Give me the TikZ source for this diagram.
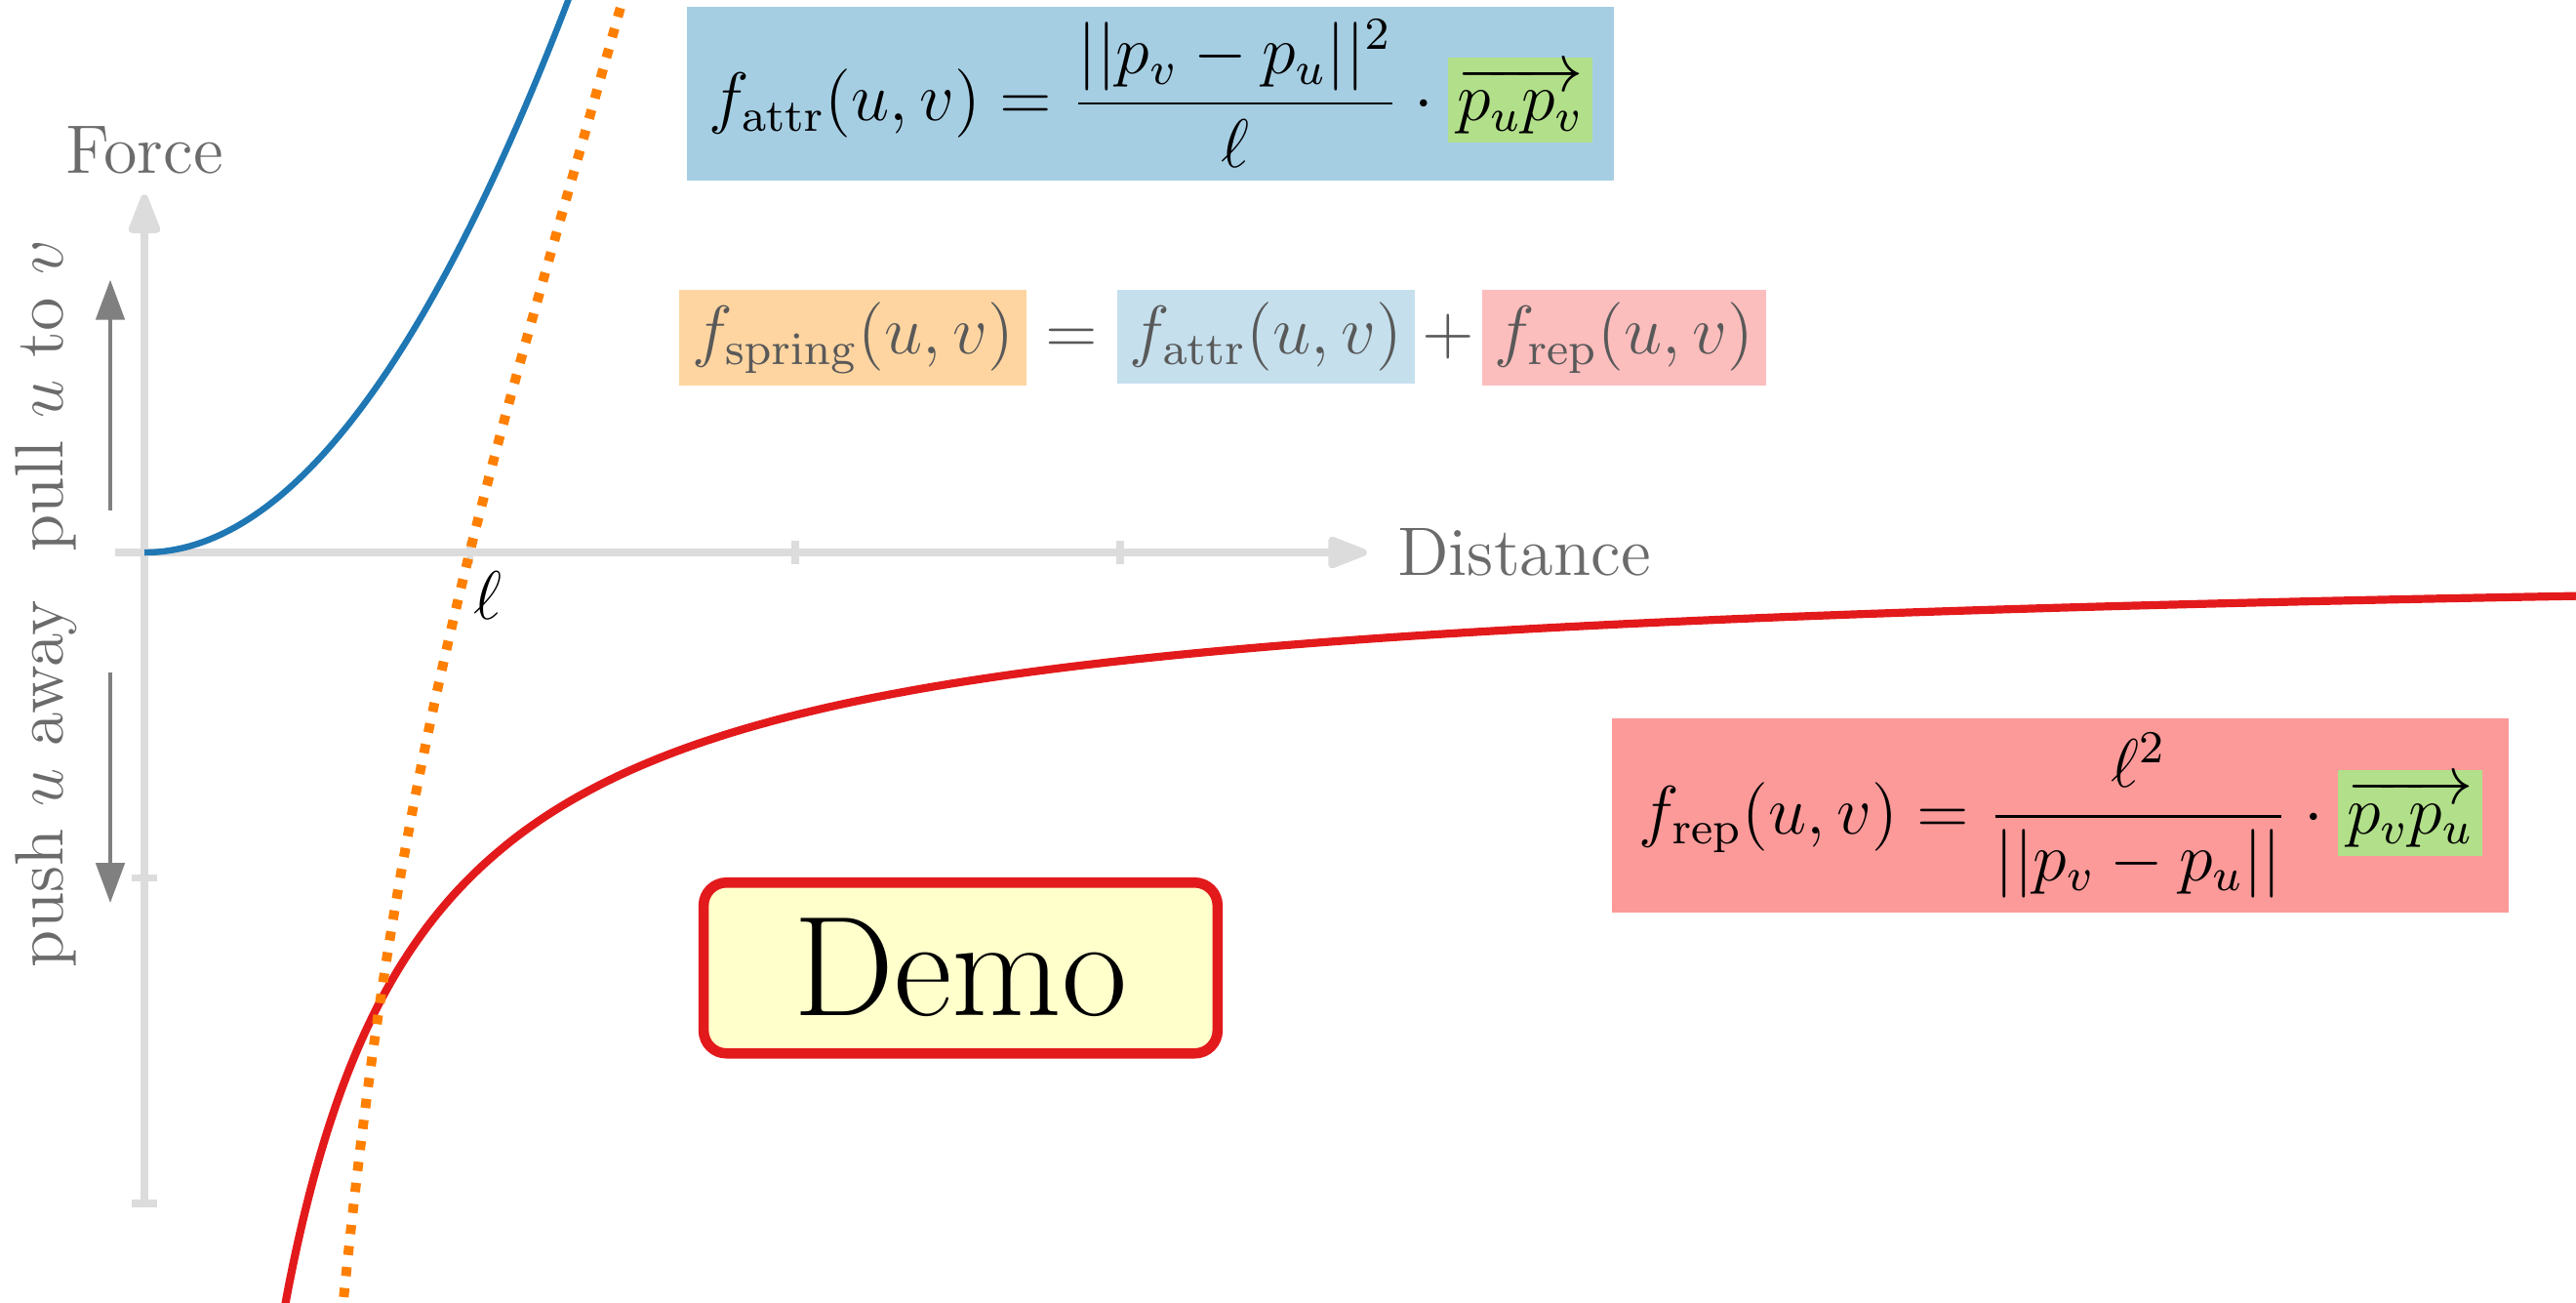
\documentclass[tikz,border=0pt]{standalone}
\usepackage{amsmath}
\usepackage{tikz}
\usetikzlibrary{arrows.meta, calc, positioning}
\definecolor{attrblue}{HTML}{A6CEE3}
\definecolor{repred}{HTML}{FB9A99}
\definecolor{springorange}{HTML}{FDBF6F}
\definecolor{vecgreen}{HTML}{B2DF8A}
\definecolor{curveblue}{HTML}{1F77B4}
\definecolor{curvered}{HTML}{E31A1C}
\definecolor{curveorange}{HTML}{FF7F00}
\definecolor{axisgray}{HTML}{DCDCDC}
\definecolor{labelgray}{HTML}{6B6B6B}
\definecolor{demoyellow}{HTML}{FFFFCC}
\setlength{\fboxsep}{1.5pt}
\tikzstyle{axis} = [draw=axisgray, line width=1.3pt]
\tikzstyle{axistip} = [-{Triangle[length=8pt, width=5.8pt, round]}]
\tikzstyle{axislabel} = [text=labelgray, font=\large]
\tikzstyle{hint} = [draw=gray, line width=0.7pt, -{Triangle[length=7pt, width=5pt]}]
\tikzstyle{formulabox} = [rectangle, inner sep=0pt, font=\large]
\tikzstyle{demo} = [rectangle, draw=curvered, line width=1.8pt, fill=demoyellow,
    rounded corners=4pt, minimum width=3.16cm, minimum height=1.05cm, font=\Huge]

\begin{document}
\begin{tikzpicture}[x=2cm, y=2cm,
    attrcurve/.style={draw=curveblue, line width=1.1pt},
    repcurve/.style={draw=curvered, line width=1.4pt},
    springcurve/.style={draw=curveorange, line width=1.7pt, dash pattern=on 1.6pt off 2.1pt}
    ]
    \useasboundingbox (-0.444,-2.304) rectangle (7.475,1.698);

    % Axes
    \coordinate (origin) at (0,0);
    \coordinate (xleft) at (-0.09,0);
    \coordinate (xright) at (3.758,0);
    \coordinate (ybottom) at (0,-2);
    \coordinate (ytop) at (0,1.10);
    \draw [axis, axistip] (xleft) -- (xright);
    \draw [axis, axistip] (ybottom) -- (ytop);
    \foreach \i in {1,2,3}
        \draw [axis] (\i,-0.036) -- (\i,0.036);
    \foreach \j in {-1,-2}
        \draw [axis] (-0.04,\j) -- (0.04,\j);

    \node [axislabel, above=0cm of ytop] (force) {Force};
    \node [axislabel, anchor=west] (distance) at (3.79,0) {Distance};
    \node [font=\large] (ell) at (1.056,-0.132) {$\ell$};

    \node [axislabel, rotate=90] (pull) at (-0.303,0.48) {pull $u$ to $v$};
    \node [axislabel, rotate=90] (push) at (-0.303,-0.711) {push $u$ away};
    \coordinate (pullfrom) at (-0.105,0.13);
    \coordinate (pullto) at (-0.105,0.838);
    \coordinate (pushfrom) at (-0.105,-0.369);
    \coordinate (pushto) at (-0.105,-1.077);
    \draw [hint] (pullfrom) -- (pullto);
    \draw [hint] (pushfrom) -- (pushto);

    % Curves
    \begin{scope}
        \clip (-0.444,-2.304) rectangle (7.475,1.698);
        \draw [attrcurve, domain=0:1.32, samples=80, smooth] plot (\x, {\x*\x});
        \draw [repcurve, domain=0.42:7.5, samples=300, smooth] plot (\x, {-1/\x});
        \draw [springcurve, domain=0.6:1.48, samples=80, smooth] plot (\x, {\x*\x - 1/(\x*\x)});
    \end{scope}

    % Formulas
    \node [formulabox, fill=attrblue, minimum width=5.70cm, minimum height=1.07cm] (attr) at (3.092,1.41)
        {$\displaystyle f_{\mathrm{attr}}(u,v) = \frac{||p_v - p_u||^2}{\ell} \cdot \colorbox{vecgreen}{$\displaystyle\overrightarrow{p_u p_v}$}$};
    \node [formulabox, text=black!65, anchor=west] (spring) at (1.641,0.66)
        {\setlength{\fboxsep}{2.2pt}$\colorbox{springorange!65}{$f_{\mathrm{spring}}(u,v)$} = \colorbox{attrblue!65}{$f_{\mathrm{attr}}(u,v)$}\mkern-2mu+\mkern-2mu\colorbox{repred!65}{$f_{\mathrm{rep}}(u,v)$}$};
    \node [formulabox, fill=repred, minimum width=5.51cm, minimum height=1.19cm] (rep) at (5.89,-0.808)
        {$\displaystyle f_{\mathrm{rep}}(u,v) = \frac{\ell^2}{||p_v - p_u||} \cdot \colorbox{vecgreen}{$\displaystyle\overrightarrow{p_v p_u}$}$};

    \node [demo] (demobox) at (2.509,-1.277) {Demo};
\end{tikzpicture}
\end{document}
